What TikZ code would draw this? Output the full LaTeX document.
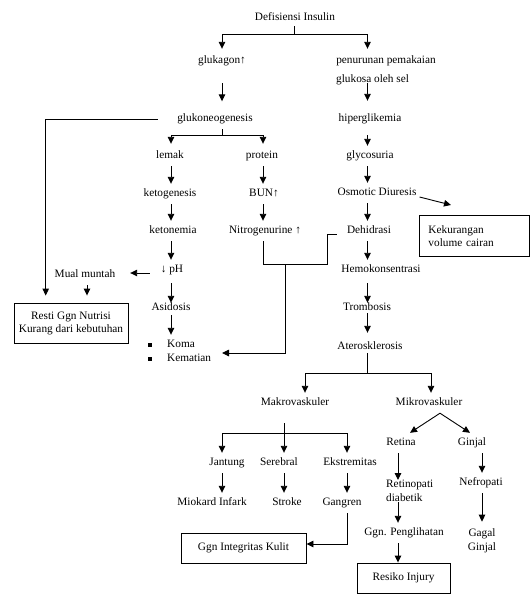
\documentclass[tikz,border=0pt]{standalone}
\usepackage{fontspec}
\setmainfont{Liberation Serif}
\usetikzlibrary{arrows.meta,calc}
\begin{document}
\begin{tikzpicture}[x=1pt,y=-1pt,
  t/.style={font=\fontsize{11.3}{13.5}\selectfont, inner xsep=0pt, inner ysep=5pt, text height=7.5pt, text depth=2.5pt},
  tt/.style={font=\fontsize{11.3}{14}\selectfont, inner sep=0pt},
  box/.style={draw, line width=0.9pt, font=\fontsize{11.3}{13}\selectfont, inner sep=0pt},
  bul/.style={fill=black, inner sep=0pt, minimum size=4.5pt},
  line/.style={line width=0.9pt},
  arr/.style={line width=0.9pt, -{Triangle[width=6.5pt,length=7pt]}}]
\fill[white] (0,0) rectangle (531,597);
\useasboundingbox (0,0) rectangle (531,597);
% column coordinates
\coordinate (colL) at (171,0);
\coordinate (colP) at (263,0);
\coordinate (colR) at (367.5,0);
\coordinate (colA) at (45.7,0);
\coordinate (colMu) at (87,0);
\coordinate (colMk) at (305,0);
\coordinate (colMi) at (431,0);
\coordinate (colJ) at (222,0);
\coordinate (colS) at (284,0);
\coordinate (colE) at (347,0);
\coordinate (colRt) at (398,0);
\coordinate (colG) at (482,0);
% nodes
\node[t] (ins) at (295,18) {Defisiensi Insulin};
\node[t] (glukagon) at (222,61) {glukagon↑};
\node[t] (pen1) at (386,61) {penurunan pemakaian};
\node[t, anchor=west] (pen2) at (336,80) {glukosa oleh sel};
\node[t] (gluco) at (215,119) {glukoneogenesis};
\node[t] (hiper) at (370,119) {hiperglikemia};
\node[t] (lemak) at (170,156) {lemak};
\node[t] (protein) at (262,156) {protein};
\node[t] (glyco) at (370,156) {glycosuria};
\node[t] (keto) at (170,194) {ketogenesis};
\node[t] (bun) at (264,194) {BUN↑};
\node[t] (osm) at (377,193) {Osmotic Diuresis};
\node[t] (ketonemia) at (173,231) {ketonemia};
\node[t] (nitro) at (265,231) {Nitrogenurine ↑};
\node[t] (dehid) at (369,231) {Dehidrasi};
\node[t] (ph) at (172,270) {↓ pH};
\node[t] (mual) at (85,275) {Mual muntah};
\node[t] (hemo) at (381,270) {Hemokonsentrasi};
\node[t] (asid) at (171,308) {Asidosis};
\node[t] (tromb) at (367,308) {Trombosis};
\node[box, minimum width=114pt, minimum height=40pt, align=center] (nutri) at (71,323) {Resti Ggn Nutrisi\\Kurang dari kebutuhan};
\node[bul] (b1) at (150,345) {};
\node[t, anchor=west] (koma) at (167,345) {Koma};
\node[bul] (b2) at (150,359) {};
\node[t, anchor=west] (kematian) at (167,359) {Kematian};
\node[box, anchor=north west, text width=92pt, inner xsep=9pt, minimum height=41pt, align=left] (kurang) at (419,215) {Kekurangan\\volume cairan};
\node[t] (ateros) at (370,347) {Aterosklerosis};
\node[t] (makro) at (295,403) {Makrovaskuler};
\node[t] (mikro) at (429,403) {Mikrovaskuler};
\node[t] (retina) at (401,443) {Retina};
\node[t] (ginjal) at (472,443) {Ginjal};
\node[t] (jantung) at (227,463) {Jantung};
\node[t] (serebral) at (279,463) {Serebral};
\node[t] (ekstrem) at (350,463) {Ekstremitas};
\node[tt, anchor=west, align=left] (retino) at (386,491) {Retinopati\\diabetik};
\node[t] (nef) at (481,483) {Nefropati};
\node[t] (miokard) at (212,503) {Miokard Infark};
\node[t] (stroke) at (287,503) {Stroke};
\node[t] (gangren) at (342,503) {Gangren};
\node[t] (ggnp) at (404,533) {Ggn. Penglihatan};
\node[tt, align=center] (gagal) at (482,541) {Gagal\\Ginjal};
\node[box, minimum width=125pt, minimum height=30pt, text height=7.5pt, text depth=2.5pt] (kulit) at (243.5,548) {Ggn Integritas Kulit};
\node[box, minimum width=93pt, minimum height=30pt, text height=7.5pt, text depth=2.5pt] (resiko) at (403.5,578) {Resiko Injury};
% junction coordinates
\coordinate (cT) at (294,34.5);
\coordinate (cG) at (222.5,135.5);
\coordinate (cA) at (367,373);
\coordinate (cM) at (284,433);
\coordinate (cN1) at (263,264);
\coordinate (cN2) at (327,264);
\coordinate (cN3) at (285,264);
\coordinate (cN5) at (337,234);
\coordinate (cK) at (222,353);
% connectors
\draw[line, shorten <=-2pt] (ins.south -| cT) -- (cT);
\draw[arr, shorten >=2pt] (cT) -| (glukagon.north);
\draw[arr, shorten >=2pt] (cT) -| (pen1.north -| colR);
\draw[arr, shorten <=12pt, shorten >=7.5pt] (glukagon.south) -- (glukagon.south |- gluco.north);
\draw[arr, shorten <=-7pt, shorten >=8pt] (pen2.south -| colR) -- (hiper.north -| colR);
\draw[line] (gluco.south -| cG) -- (cG);
\draw[arr, shorten >=2pt] (cG) -| (lemak.north -| colL);
\draw[arr, shorten >=2pt] (cG) -| (protein.north -| colP);
\draw[arr, shorten >=7pt] ([xshift=-19.5pt]gluco.west) -| (nutri.north -| colA);
\draw[arr, shorten <=6pt] (hiper.south -| colR) -- (glyco.north -| colR);
\draw[arr] (lemak.south -| colL) -- (keto.north -| colL);
\draw[arr] (protein.south -| colP) -- (bun.north -| colP);
\draw[arr] (glyco.south -| colR) -- (osm.north -| colR);
\draw[arr] (keto.south -| colL) -- (ketonemia.north -| colL);
\draw[arr] (bun.south -| colP) -- (nitro.north -| colP);
\draw[arr] (osm.south -| colR) -- (dehid.north -| colR);
\draw[arr] (ketonemia.south -| colL) -- (ph.north -| colL);
\draw[arr] (dehid.south -| colR) -- (hemo.north -| colR);
\draw[arr, shorten <=3pt, shorten >=-5pt] (ph.south -| colL) -- (asid.north -| colL);
\draw[arr, shorten <=3pt, shorten >=-5pt] (hemo.south -| colR) -- (tromb.north -| colR);
\draw[arr, shorten <=10.7pt, shorten >=14.7pt] ([yshift=-3pt]ph.west) -- ([yshift=-3pt]ph.west -| mual.east);
\draw[arr, shorten >=7pt] (mual.south -| colMu) -- (nutri.north -| colMu);
\draw[arr, shorten <=-3pt] (asid.south -| colL) -- (koma.north -| colL);
\draw[arr, shorten <=-5pt, shorten >=4pt] (tromb.south -| colR) -- (ateros.north -| colR);
\draw[arr] ([shift={(3,4)}]osm.east) -- ([shift={(32,-10)}]kurang.north west);
\draw[line] (nitro.south -| colP) -- (cN1) -- (cN2) |- (cN5);
\draw[arr] (cN3) |- (cK);
\draw[line, shorten <=-4pt] (ateros.south -| cA) -- (cA);
\draw[arr] (cA) -| (makro.north -| colMk);
\draw[arr] (cA) -| (mikro.north -| colMi);
\draw[line, shorten <=10pt] (makro.south -| cM) -- (cM);
\draw[arr] (cM) -| (jantung.north -| colJ);
\draw[arr] (cM) -- (serebral.north -| colS);
\draw[arr] (cM) -| (ekstrem.north -| colE);
\draw[arr] (jantung.south -| colJ) -- (miokard.north -| colJ);
\draw[arr] (serebral.south -| colS) -- (stroke.north -| colS);
\draw[arr] (ekstrem.south -| colE) -- (gangren.north -| colE);
\draw[arr] (gangren.south -| colE) |- ([yshift=4pt]kulit.east);
\draw[arr] ([xshift=11pt]mikro.south) -- ([xshift=9pt]retina.north);
\draw[arr] ([xshift=11pt]mikro.south) -- ([xshift=-2pt]ginjal.north);
\draw[arr] (retina.south -| colRt) -- (retino.north -| colRt);
\draw[arr] (ginjal.south -| colG) -- (nef.north -| colG);
\draw[arr] (retino.south -| colRt) -- (ggnp.north -| colRt);
\draw[arr, shorten >=7pt] (nef.south -| colG) -- (gagal.north -| colG);
\draw[arr] (ggnp.south -| colRt) -- (resiko.north -| colRt);
\end{tikzpicture}
\end{document}
